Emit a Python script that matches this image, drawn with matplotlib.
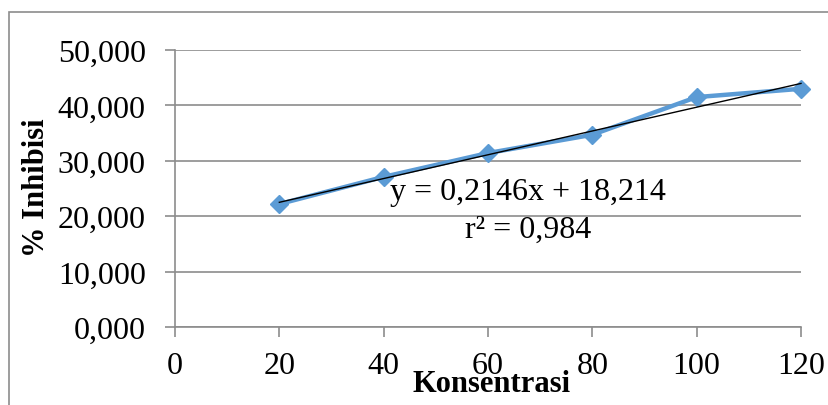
import matplotlib
matplotlib.use("Agg")
from matplotlib import pyplot as plt
from matplotlib.patches import Rectangle
from matplotlib.ticker import FuncFormatter

# data
konsentrasi = [20, 40, 60, 80, 100, 120]
inhibisi = [22.2, 27.1, 31.4, 34.7, 41.5, 43.0]
slope = 0.2146
intercept = 18.214
r2_text = "r² = 0,984"
eq_text = "y = 0,2146x + 18,214"
x_ticks = [0, 20, 40, 60, 80, 100, 120]
y_ticks = [0, 10, 20, 30, 40, 50]

plt.rcParams['font.family'] = ['Liberation Serif', 'DejaVu Serif']
grey = '#8c8c8c'

fig = plt.figure(figsize=(8.29, 4.06), dpi=100)
# chart area border
fig.patches.append(Rectangle((9/829, -0.1), 1.2, 1 - 13/406 + 0.1, transform=fig.transFigure,
                             fill=False, edgecolor=grey, linewidth=1.2))

ax = fig.add_axes([175/829, 1 - 328/406, (801-175)/829, (328-51)/406])
ax.set_xlim(0, 120)
ax.set_ylim(0, 50)
ax.set_xticks(x_ticks)
ax.set_yticks(y_ticks)
ax.yaxis.set_major_formatter(FuncFormatter(lambda v, p: f"{v:.3f}".replace('.', ',')))
ax.grid(axis='y', color=grey, linewidth=1.2)
ax.set_axisbelow(True)
for s in ['top', 'right']:
    ax.spines[s].set_visible(False)
for s in ['left', 'bottom']:
    ax.spines[s].set_color(grey)
    ax.spines[s].set_linewidth(1.2)
ax.tick_params(axis='y', direction='out', length=7, width=1.2, color=grey, labelsize=23, pad=14)
ax.tick_params(axis='x', direction='out', length=7, width=1.2, color=grey, labelsize=23, pad=10)

ax.plot(konsentrasi, inhibisi, color='#5b9bd5', linewidth=3.2, marker='D', markersize=9,
        zorder=3, clip_on=False)
tx = [konsentrasi[0], konsentrasi[-1]]
ax.plot(tx, [slope*v + intercept for v in tx], color='black', linewidth=1.0, zorder=4, clip_on=False)

fig.text(528/829, 1 - 193/406, eq_text, fontsize=23, ha='center', va='center')
fig.text(528/829, 1 - 230/406, r2_text, fontsize=23, ha='center', va='center')

fig.text(492/829, 1 - 385/406, "Konsentrasi", fontsize=22, fontweight='bold', ha='center', va='center')
fig.text(37/829, 1 - 188/406, "% Inhibisi", fontsize=22, fontweight='bold', ha='center', va='center',
         rotation=90)

fig.savefig("out.png", dpi=100)
